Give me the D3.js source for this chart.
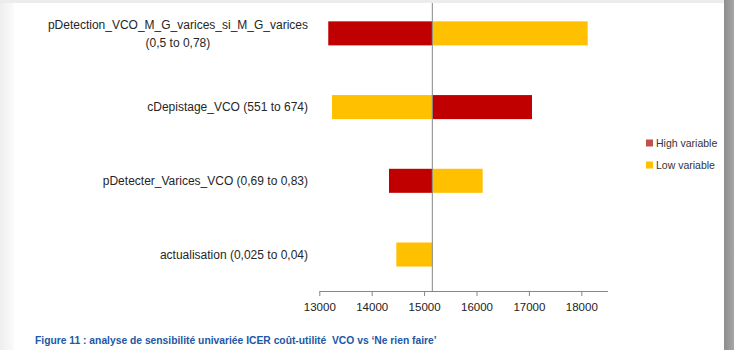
<!DOCTYPE html>
<html>
<head>
<meta charset="utf-8">
<script src="https://cdn.jsdelivr.net/npm/d3@7/dist/d3.min.js"></script>
<style>
  html, body { margin: 0; padding: 0; background: #ffffff; }
  svg { display: block; }
</style>
</head>
<body>
<svg id="chart" width="734" height="350"></svg>
<script>
// Tornado diagram: one-way sensitivity of the ICER around the base case
const categories = [
  ["pDetection_VCO_M_G_varices_si_M_G_varices", "(0,5 to 0,78)"],
  ["cDepistage_VCO (551 to 674)"],
  ["pDetecter_Varices_VCO (0,69 to 0,83)"],
  ["actualisation (0,025 to 0,04)"]
];
const baseCase = 15157;
const highValues = [13171, 17059, 14330, 15157];
const lowValues = [18122, 13242, 16118, 14470];
const tickValues = [13000, 14000, 15000, 16000, 17000, 18000];
const seriesNames = ["High variable", "Low variable"];
const caption = "Figure 11 : analyse de sensibilité univariée ICER coût-utilité\u00A0\u00A0VCO vs \u2018Ne rien faire\u2019";

const colors = { high: "#c00000", low: "#ffc000", highKey: "#c0504d", lowKey: "#ffc000" };

const svg = d3.select("#chart");
const W = 734, H = 350;

// page frame: grey surround, white sheet, dark shadow on the right
const defs = svg.append("defs");
const gl = defs.append("linearGradient").attr("id", "leftFade").attr("x1", 0).attr("x2", 1);
gl.append("stop").attr("offset", 0).attr("stop-color", "#eeeeee");
gl.append("stop").attr("offset", 1).attr("stop-color", "#fbfbfb");
const gr = defs.append("linearGradient").attr("id", "rightShadow").attr("x1", 0).attr("x2", 1);
gr.append("stop").attr("offset", 0).attr("stop-color", "#8e8e8e");
gr.append("stop").attr("offset", 1).attr("stop-color", "#a6a6a6");

svg.append("rect").attr("width", W).attr("height", H).attr("fill", "#ececec");
svg.append("rect").attr("x", 0).attr("y", 3).attr("width", 14).attr("height", H - 3).attr("fill", "url(#leftFade)");
svg.append("rect").attr("x", 14).attr("y", 3).attr("width", 710).attr("height", H - 3).attr("fill", "#ffffff");
svg.append("rect").attr("x", 724).attr("y", 0).attr("width", 10).attr("height", H).attr("fill", "url(#rightShadow)");

const x = d3.scaleLinear().domain([13000, 18500]).range([319.3, 607.5]);
const y = d3.scaleBand()
  .domain(d3.range(categories.length))
  .range([-3.5, 291.4])
  .paddingInner(0.674)
  .paddingOuter(0.337);

const font = "'Liberation Sans', Arial, sans-serif";
const g = svg.append("g");

// bars for the high and low values of each parameter
const rows = categories.map((c, i) => ({ i, high: highValues[i], low: lowValues[i] }));
const drawBars = (key, color) => {
  g.selectAll(".bar-" + key).data(rows).join("rect")
    .attr("class", "bar-" + key)
    .attr("x", d => x(Math.min(d[key], baseCase)))
    .attr("width", d => Math.abs(x(d[key]) - x(baseCase)))
    .attr("y", d => y(d.i))
    .attr("height", y.bandwidth())
    .attr("fill", color);
};
drawBars("high", colors.high);
drawBars("low", colors.low);

// vertical line at the base case value
g.append("line")
  .attr("x1", x(baseCase)).attr("x2", x(baseCase))
  .attr("y1", 3).attr("y2", 291)
  .attr("stroke", "#868686").attr("stroke-width", 1);

// value axis
const axis = g.append("g")
  .attr("transform", "translate(0,291)")
  .call(d3.axisBottom(x).tickValues(tickValues).tickSizeOuter(0).tickSizeInner(5).tickFormat(d3.format("d")));
axis.select(".domain").attr("stroke", "#868686");
axis.selectAll(".tick line").attr("stroke", "#868686");
axis.selectAll(".tick text")
  .attr("y", 12)
  .attr("font-family", font).attr("font-size", "11.5px").attr("fill", "#222");

// category labels, right-aligned, wrapped lines centred on each other
const labelRight = 308;
categories.forEach((lines, i) => {
  const cy = y(i) + y.bandwidth() / 2;
  const lineH = 18;
  const t = g.append("text")
    .attr("font-family", font).attr("font-size", "12px").attr("fill", "#262626")
    .attr("text-anchor", "middle");
  const spans = lines.map((s, k) => t.append("tspan")
    .attr("y", cy + (k - (lines.length - 1) / 2) * lineH)
    .attr("dy", "0.35em")
    .text(s));
  const widest = d3.max(spans, s => s.node().getComputedTextLength());
  spans.forEach(s => s.attr("x", labelRight - widest / 2));
});

// legend
const legend = g.append("g").attr("transform", "translate(646,143)");
[[seriesNames[0], colors.highKey], [seriesNames[1], colors.lowKey]].forEach(([name, c], k) => {
  legend.append("rect").attr("x", 0).attr("y", k * 22 - 3.5).attr("width", 7).attr("height", 7).attr("fill", c);
  legend.append("text").attr("x", 10).attr("y", k * 22).attr("dy", "0.35em")
    .attr("font-family", font).attr("font-size", "10.5px").attr("fill", "#333")
    .text(name);
});

// figure caption
svg.append("text")
  .attr("x", 35).attr("y", 340).attr("dy", "0.35em")
  .attr("font-family", font).attr("font-size", "10.3px").attr("font-weight", "bold")
  .attr("fill", "#2157a4")
  .text(caption);
</script>
</body>
</html>
